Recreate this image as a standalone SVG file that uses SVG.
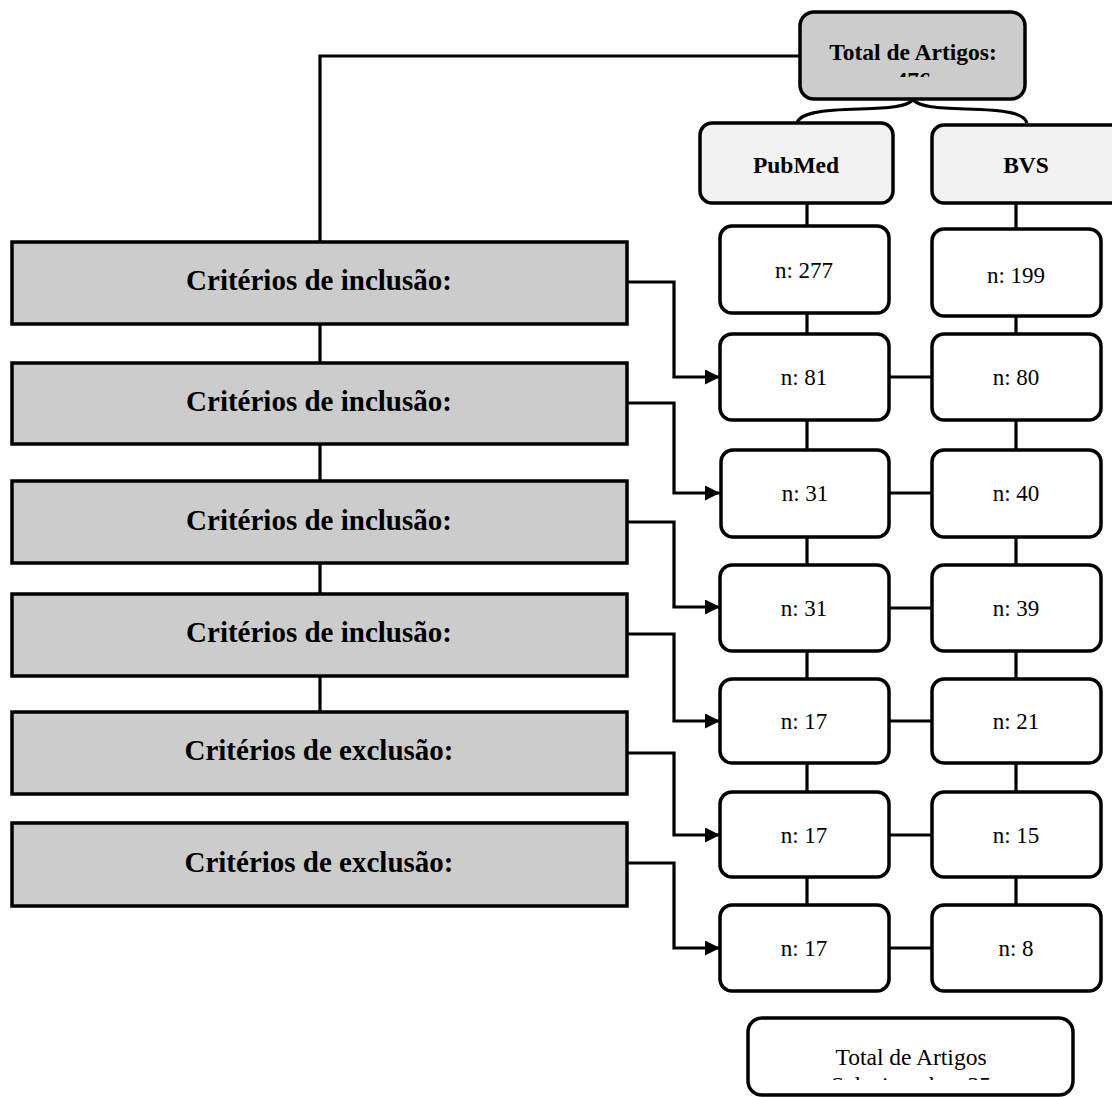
<svg xmlns="http://www.w3.org/2000/svg" width="1112" height="1097" viewBox="0 0 1112 1097">
<style>
.t{font-family:"Liberation Serif","Times New Roman",serif;fill:#000;text-anchor:middle}
.b{font-weight:bold}
.crit{fill:#cccccc;stroke:#000;stroke-width:3.5}
.hdr{fill:#f2f2f2;stroke:#000;stroke-width:3.5}
.top{fill:#cccccc;stroke:#000;stroke-width:3.5}
.nd{fill:#ffffff;stroke:#000;stroke-width:3.5}
.ln{fill:none;stroke:#000;stroke-width:3.2}
</style>
<defs>
<marker id="arr" markerUnits="userSpaceOnUse" markerWidth="16" markerHeight="16" refX="15" refY="7.5" orient="auto">
<path d="M0,0 L15,7.5 L0,15 z" fill="#000"/>
</marker>
<clipPath id="clipTop"><rect x="800" y="0" width="230" height="77"/></clipPath>
<clipPath id="clipBot"><rect x="748" y="1000" width="330" height="80"/></clipPath>
</defs>

<g id="connectors">
<path class="ln" d="M800,56 H320 V712"/>
<path class="ln" d="M913,100 C905,107 890,108 860,109 C820,110 800,113 797,123"/>
<path class="ln" d="M913,100 C921,107 936,108 966,109 C1006,110 1024,113 1027,123"/>
<path class="ln" d="M807,203 V905"/>
<path class="ln" d="M1016,203 V905"/>
<path class="ln" d="M889,377 H932"/>
<path class="ln" d="M889,493 H932"/>
<path class="ln" d="M889,608 H932"/>
<path class="ln" d="M889,721 H932"/>
<path class="ln" d="M889,835 H932"/>
<path class="ln" d="M889,948 H932"/>
<path class="ln" d="M627,282 H674 V377 H720" marker-end="url(#arr)"/>
<path class="ln" d="M627,403 H674 V493 H720" marker-end="url(#arr)"/>
<path class="ln" d="M627,522 H674 V607 H720" marker-end="url(#arr)"/>
<path class="ln" d="M627,634 H674 V721 H720" marker-end="url(#arr)"/>
<path class="ln" d="M627,753 H674 V835 H720" marker-end="url(#arr)"/>
<path class="ln" d="M627,863 H674 V948 H720" marker-end="url(#arr)"/>
</g>

<g id="total">
<rect class="top" x="800" y="12" width="225" height="87" rx="14"/>
<g clip-path="url(#clipTop)">
<text class="t b" x="913" y="60" font-size="23.5">Total de Artigos:</text>
<text class="t b" x="913" y="88" font-size="23.5">476</text>
</g>
</g>

<g id="pubmed">
<rect class="hdr" x="700" y="123" width="193" height="80" rx="12"/>
<text class="t b" x="796" y="173" font-size="23.5">PubMed</text>
</g>
<g id="bvs">
<rect class="hdr" x="932" y="125" width="195" height="78" rx="12"/>
<text class="t b" x="1026" y="173" font-size="23.5">BVS</text>
</g>

<g id="crit1">
<rect class="crit" x="12" y="242" width="615" height="82"/>
<text class="t b" x="319" y="290" font-size="29">Critérios de inclusão:</text>
</g>
<g id="crit2">
<rect class="crit" x="12" y="363" width="615" height="81"/>
<text class="t b" x="319" y="411" font-size="29">Critérios de inclusão:</text>
</g>
<g id="crit3">
<rect class="crit" x="12" y="481" width="615" height="82"/>
<text class="t b" x="319" y="530" font-size="29">Critérios de inclusão:</text>
</g>
<g id="crit4">
<rect class="crit" x="12" y="594" width="615" height="82"/>
<text class="t b" x="319" y="642" font-size="29">Critérios de inclusão:</text>
</g>
<g id="crit5">
<rect class="crit" x="12" y="712" width="615" height="82"/>
<text class="t b" x="319" y="760" font-size="29">Critérios de exclusão:</text>
</g>
<g id="crit6">
<rect class="crit" x="12" y="823" width="615" height="83"/>
<text class="t b" x="319" y="872" font-size="29">Critérios de exclusão:</text>
</g>

<g id="p1"><rect class="nd" x="720" y="226" width="169" height="87" rx="12"/><text class="t" x="804" y="278" font-size="23">n: 277</text></g>
<g id="b1"><rect class="nd" x="932" y="229" width="169" height="87" rx="12"/><text class="t" x="1016" y="283" font-size="23">n: 199</text></g>
<g id="p2"><rect class="nd" x="720" y="334" width="169" height="86" rx="12"/><text class="t" x="804" y="385" font-size="23">n: 81</text></g>
<g id="b2"><rect class="nd" x="932" y="334" width="169" height="86" rx="12"/><text class="t" x="1016" y="385" font-size="23">n: 80</text></g>
<g id="p3"><rect class="nd" x="721" y="450" width="168" height="87" rx="12"/><text class="t" x="805" y="501" font-size="23">n: 31</text></g>
<g id="b3"><rect class="nd" x="932" y="450" width="169" height="87" rx="12"/><text class="t" x="1016" y="501" font-size="23">n: 40</text></g>
<g id="p4"><rect class="nd" x="720" y="565" width="169" height="86" rx="12"/><text class="t" x="804" y="616" font-size="23">n: 31</text></g>
<g id="b4"><rect class="nd" x="932" y="565" width="169" height="86" rx="12"/><text class="t" x="1016" y="616" font-size="23">n: 39</text></g>
<g id="p5"><rect class="nd" x="720" y="679" width="169" height="84" rx="12"/><text class="t" x="804" y="729" font-size="23">n: 17</text></g>
<g id="b5"><rect class="nd" x="932" y="679" width="169" height="84" rx="12"/><text class="t" x="1016" y="729" font-size="23">n: 21</text></g>
<g id="p6"><rect class="nd" x="720" y="792" width="169" height="85" rx="12"/><text class="t" x="804" y="843" font-size="23">n: 17</text></g>
<g id="b6"><rect class="nd" x="932" y="792" width="169" height="85" rx="12"/><text class="t" x="1016" y="843" font-size="23">n: 15</text></g>
<g id="p7"><rect class="nd" x="720" y="905" width="169" height="86" rx="12"/><text class="t" x="804" y="956" font-size="23">n: 17</text></g>
<g id="b7"><rect class="nd" x="932" y="905" width="169" height="86" rx="12"/><text class="t" x="1016" y="956" font-size="23">n: 8</text></g>

<g id="selected">
<rect class="nd" x="748" y="1018" width="325" height="77" rx="14"/>
<g clip-path="url(#clipBot)">
<text class="t" x="911" y="1065" font-size="23.5">Total de Artigos</text>
<text class="t" x="911" y="1093" font-size="23.5">Selecionados: 25</text>
</g>
</g>
</svg>
